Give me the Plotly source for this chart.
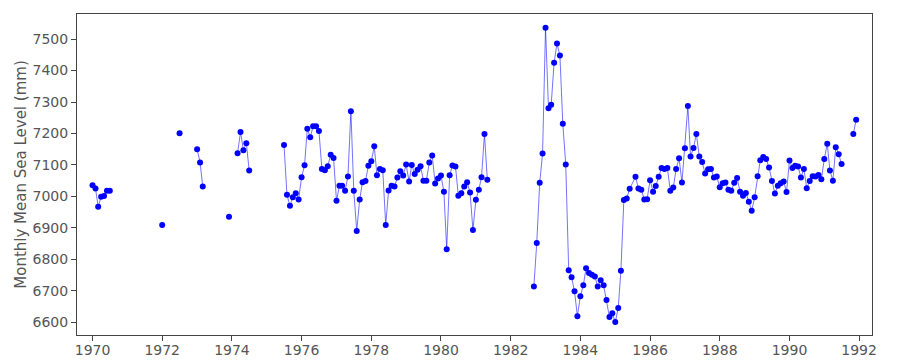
import pandas as pd
import plotly.graph_objects as go

# ---- data: monthly mean sea level (mm), segments of consecutive months ----
seg1_start = "1970-01-01"
seg1_vals = [7035, 7025, 6967, 6999, 7001, 7018, 7018]

seg2_start = "1972-01-01"
seg2_vals = [6909]

seg3_start = "1972-07-01"
seg3_vals = [7201]

seg4_start = "1973-01-01"
seg4_vals = [7150, 7108, 7031]

seg5_start = "1973-12-01"
seg5_vals = [6935]

seg6_start = "1974-03-01"
seg6_vals = [7137, 7205, 7147, 7169, 7082]

seg7_start = "1975-07-01"
seg7_vals = [7163, 7005, 6970, 6997, 7010, 6990,
             7061, 7099, 7215, 7188, 7223, 7223, 7208, 7087, 7083, 7096, 7132, 7122,
             6986, 7034, 7034, 7018, 7063, 7271, 7018, 6890, 6990, 7045, 7049, 7097,
             7112, 7159, 7067, 7087, 7083, 6909, 7019, 7034, 7031, 7060, 7080, 7066,
             7101, 7047, 7100, 7071, 7085, 7096, 7050, 7050, 7108, 7130, 7041, 7057,
             7066, 7015, 6832, 7067, 7098, 7095, 7002, 7010, 7031, 7045, 7012, 6893,
             6989, 7021, 7061, 7198, 7053]

seg8_start = "1982-09-01"
seg8_vals = [6713, 6852, 7043, 7136,
             7536, 7280, 7291, 7425, 7486, 7448, 7231, 7101, 6765, 6743, 6698, 6619,
             6682, 6717, 6771, 6756, 6751, 6745, 6713, 6733, 6717, 6670, 6616, 6628,
             6600, 6645, 6763, 6988, 6993, 7024]

# continues (line joined) after a skipped month
seg9_start = "1985-08-01"
seg9_vals = [7062, 7025, 7021, 6990, 6991,
             7051, 7015, 7033, 7062, 7090, 7087, 7090, 7018, 7028, 7087, 7121, 7044,
             7153, 7287, 7127, 7154, 7198, 7127, 7109, 7073, 7086, 7087, 7060, 7063,
             7029, 7042, 7044, 7021, 7018, 7043, 7058, 7015, 7002, 7011, 6983, 6954,
             6997, 7064, 7115, 7125, 7119, 7092, 7049, 7009, 7034, 7042, 7047, 7014,
             7114, 7090, 7097, 7095, 7060, 7087, 7026, 7049, 7064, 7063, 7068, 7054,
             7119, 7167, 7082, 7050, 7156, 7134, 7103]

seg10_start = "1991-11-01"
seg10_vals = [7198, 7244]

segments = [
    (seg1_start, seg1_vals, True),
    (seg2_start, seg2_vals, True),
    (seg3_start, seg3_vals, True),
    (seg4_start, seg4_vals, True),
    (seg5_start, seg5_vals, True),
    (seg6_start, seg6_vals, True),
    (seg7_start, seg7_vals, True),
    (seg8_start, seg8_vals, False),  # joined to next segment
    (seg9_start, seg9_vals, True),
    (seg10_start, seg10_vals, True),
]

xs, ys = [], []
for start, vals, brk in segments:
    dates = pd.date_range(start, periods=len(vals), freq="MS")
    xs.extend(list(dates))
    ys.extend(vals)
    if brk:
        xs.append(None)
        ys.append(None)

y_ticks = [6600, 6700, 6800, 6900, 7000, 7100, 7200, 7300, 7400, 7500]

fig = go.Figure()
fig.add_trace(go.Scatter(
    x=xs, y=ys, mode="lines+markers",
    line=dict(color="rgba(0,0,255,0.55)", width=1),
    marker=dict(color="#0000ff", size=6),
    connectgaps=False, showlegend=False, hoverinfo="x+y",
))

axis_common = dict(
    showgrid=False, zeroline=False, showline=True, mirror=True,
    linecolor="#444444", linewidth=1, automargin=False,
    ticks="outside", ticklen=5, tickwidth=1, tickcolor="#444444",
    tickfont=dict(family="DejaVu Sans", size=14, color="#555555"),
)

fig.update_layout(
    width=900, height=360,
    margin=dict(l=77, r=28, t=14, b=25),
    paper_bgcolor="white", plot_bgcolor="white",
    xaxis=dict(type="date", range=["1969-07-22", "1992-05-15"],
               tick0="1970-01-01", dtick="M24", tickformat="%Y",
               ticklabelstandoff=-3, **axis_common),
    yaxis=dict(range=[6559, 7580], tickvals=y_ticks,
               title=dict(text="Monthly Mean Sea Level (mm)",
                          font=dict(family="DejaVu Sans", size=15, color="#555555"),
                          standoff=2),
               **axis_common),
)

fig.write_html("out.html")
